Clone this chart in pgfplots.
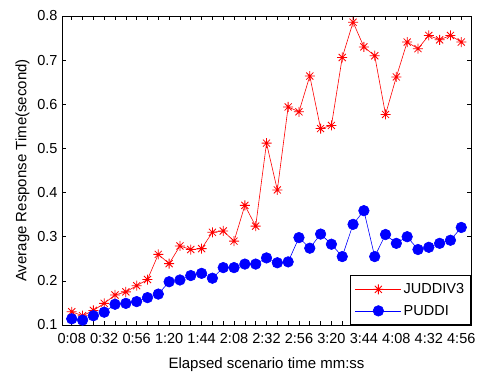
\documentclass[border=0pt]{standalone}
\usepackage{fontspec}
\setmainfont{Liberation Sans}
\usepackage{pgfplots}
\pgfplotsset{compat=1.18}
\pgfdeclareplotmark{matstar}{%
  \pgfpathmoveto{\pgfqpoint{-\pgfplotmarksize}{0pt}}\pgfpathlineto{\pgfqpoint{\pgfplotmarksize}{0pt}}%
  \pgfpathmoveto{\pgfqpoint{0pt}{-\pgfplotmarksize}}\pgfpathlineto{\pgfqpoint{0pt}{\pgfplotmarksize}}%
  \pgfpathmoveto{\pgfqpoint{-0.707\pgfplotmarksize}{-0.707\pgfplotmarksize}}\pgfpathlineto{\pgfqpoint{0.707\pgfplotmarksize}{0.707\pgfplotmarksize}}%
  \pgfpathmoveto{\pgfqpoint{-0.707\pgfplotmarksize}{0.707\pgfplotmarksize}}\pgfpathlineto{\pgfqpoint{0.707\pgfplotmarksize}{-0.707\pgfplotmarksize}}%
  \pgfusepathqstroke}
\pgfplotstableread{
x y
1 0.130
2 0.121
3 0.133
4 0.149
5 0.168
6 0.175
7 0.189
8 0.203
9 0.260
10 0.239
11 0.279
12 0.271
13 0.273
14 0.310
15 0.313
16 0.290
17 0.371
18 0.324
19 0.512
20 0.406
21 0.594
22 0.583
23 0.664
24 0.545
25 0.552
26 0.706
27 0.786
28 0.730
29 0.710
30 0.577
31 0.662
32 0.741
33 0.726
34 0.756
35 0.746
36 0.756
37 0.741
}\juddi
\pgfplotstableread{
x y
1 0.114
2 0.111
3 0.121
4 0.129
5 0.147
6 0.149
7 0.153
8 0.162
9 0.170
10 0.198
11 0.202
12 0.212
13 0.217
14 0.206
15 0.230
16 0.230
17 0.238
18 0.238
19 0.252
20 0.241
21 0.243
22 0.298
23 0.274
24 0.306
25 0.283
26 0.255
27 0.328
28 0.359
29 0.255
30 0.305
31 0.285
32 0.300
33 0.271
34 0.276
35 0.285
36 0.292
37 0.321
}\puddi
\begin{document}
\begin{tikzpicture}
\path[use as bounding box] (0,0) rectangle (480bp,374bp);
\begin{axis}[
  at={(62bp,49bp)}, anchor=south west,
  scale only axis, width=409bp, height=309bp,
  xmin=0.1, xmax=37.9, ymin=0.1, ymax=0.8,
  axis line style={line width=0.8bp},
  xtick={1,4,...,37},
  xticklabels={0:08,0:32,0:56,1:20,1:44,2:08,2:32,2:56,3:20,3:44,4:08,4:32,4:56},
  minor xtick={1,...,37},
  ytick={0.1,0.2,...,0.8},
  tick align=inside, tick pos=both,
  major tick length=4bp, minor tick length=4bp,
  tick style={line width=0.6bp, black},
  /pgf/number format/assume math mode=true,
  yticklabel style={/pgf/number format/fixed, /pgf/number format/precision=1, /pgf/number format/fixed zerofill},
  ticklabel style={font=\fontsize{14.5bp}{16bp}\selectfont},
  xticklabel style={inner xsep=0pt, yshift=-5bp},
  yticklabel style={xshift=-1bp},
  xlabel={Elapsed scenario time mm:ss},
  ylabel={Average Response Time(second)},
  label style={font=\fontsize{15bp}{17bp}\selectfont},
  xlabel style={yshift=-7bp},
  ylabel style={yshift=1bp},
  legend style={at={(1,0)}, anchor=south east, draw=black, line width=0.8bp, fill=white,
    font=\fontsize{14.5bp}{16bp}\selectfont, inner xsep=4.5bp, inner ysep=6bp, row sep=6bp, cells={anchor=west}},
  legend cell align=left,
  legend image code/.code={%
    \draw[#1, mark repeat=2, mark phase=2] plot coordinates {(0bp,0bp) (23bp,0bp) (46bp,0bp)};},
]
\addplot[red, line width=0.6bp, mark=matstar, mark size=5bp, mark options={line width=0.8bp}] table {\juddi};
\addlegendentry{JUDDIV3}
\addplot[blue, line width=0.6bp, mark=*, mark size=5.3bp, mark options={fill=blue, draw=blue}] table {\puddi};
\addlegendentry{PUDDI}
\end{axis}
\end{tikzpicture}
\end{document}
